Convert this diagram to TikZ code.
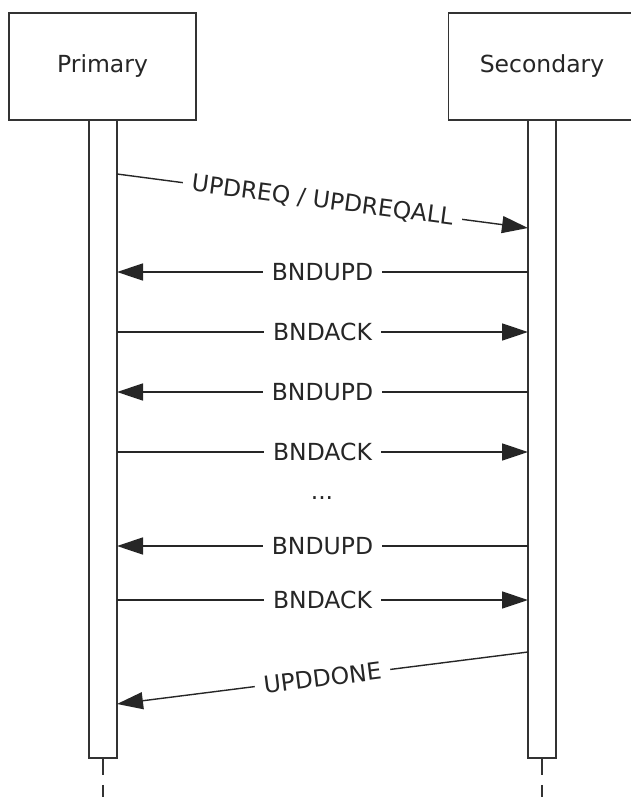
\documentclass[tikz,border=0pt]{standalone}
\usepackage{fontspec}
\setmainfont{DejaVu Sans}
\usetikzlibrary{arrows.meta}
\begin{document}
\begin{tikzpicture}[x=1pt,y=-1pt,
  every node/.style={font=\fontsize{23.5}{27}\selectfont, text=black!85},
  actor/.style={draw=black!80, line width=1.5pt, fill=white, minimum width=187pt, minimum height=107pt, inner sep=0pt},
  bar/.style={draw=black!80, line width=1.5pt, fill=white, minimum width=28pt, minimum height=638pt, inner sep=0pt},
  msg/.style={draw=black!85, line width=1.4pt, -{Triangle[length=26pt,width=17pt]}},
  lbl/.style={fill=white, inner xsep=9pt, inner ysep=2pt},
  life/.style={draw=black!80, line width=1.5pt, dash pattern=on 16pt off 10pt}]
\useasboundingbox (0,0) rectangle (631,797);
\clip (0,0) rectangle (631,797);
\node[actor] (prim) at (102.5,66.5) {Primary};
\node[actor] (sec) at (542,66.5) {Secondary};
\node[bar] (pbar) at (103,439) {};
\node[bar] (sbar) at (542,439) {};
\coordinate (pend) at (103,797);
\coordinate (send) at (542,797);
\draw[life] (pbar.south) -- (pend);
\draw[life] (sbar.south) -- (send);
% message end points
\coordinate (p1) at (117,174); \coordinate (s1) at (528,228);
\coordinate (s2) at (528,272); \coordinate (p2) at (117,272);
\coordinate (p3) at (117,332); \coordinate (s3) at (528,332);
\coordinate (s4) at (528,392); \coordinate (p4) at (117,392);
\coordinate (p5) at (117,452); \coordinate (s5) at (528,452);
\coordinate (s7) at (528,546); \coordinate (p7) at (117,546);
\coordinate (p8) at (117,600); \coordinate (s8) at (528,600);
\coordinate (s9) at (528,652); \coordinate (p9) at (117,704);
\draw[msg] (p1) -- node[lbl, sloped, midway] {UPDREQ / UPDREQALL} (s1);
\draw[msg] (s2) -- node[lbl, midway] {BNDUPD} (p2);
\draw[msg] (p3) -- node[lbl, midway] {BNDACK} (s3);
\draw[msg] (s4) -- node[lbl, midway] {BNDUPD} (p4);
\draw[msg] (p5) -- node[lbl, midway] {BNDACK} (s5);
\node (dots) at (322,498) {...};
\draw[msg] (s7) -- node[lbl, midway] {BNDUPD} (p7);
\draw[msg] (p8) -- node[lbl, midway] {BNDACK} (s8);
\draw[msg] (s9) -- node[lbl, sloped, midway] {UPDDONE} (p9);
\end{tikzpicture}
\end{document}
